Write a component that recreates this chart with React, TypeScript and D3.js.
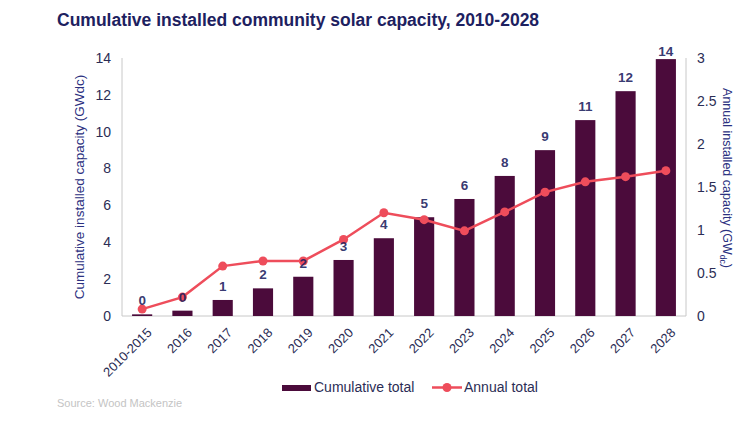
import React from 'react'
import * as d3 from 'd3'

const years = ['2010-2015', '2016', '2017', '2018', '2019', '2020', '2021', '2022', '2023', '2024', '2025', '2026', '2027', '2028']
const cumulative = [0.09, 0.29, 0.87, 1.5, 2.13, 3.04, 4.22, 5.36, 6.35, 7.6, 9.0, 10.63, 12.2, 13.94]
const annual = [0.08, 0.22, 0.58, 0.64, 0.64, 0.89, 1.2, 1.12, 0.99, 1.21, 1.44, 1.56, 1.62, 1.69]
const leftTicks = [0, 2, 4, 6, 8, 10, 12, 14]
const rightTicks = [0, 0.5, 1, 1.5, 2, 2.5, 3]

const W = 749
const H = 424
const left = 122
const right = 686
const top = 58
const bottom = 316

const barColor = '#4b0b3b'
const lineColor = '#ee4d5b'
const navy = '#1d2160'
const font = 'Arial, "Liberation Sans", sans-serif'

export default function App() {
  const x = d3.scaleBand<string>().domain(years).range([left, right]).paddingInner(0.5).paddingOuter(0.25)
  const yL = d3.scaleLinear().domain([0, 14]).range([bottom, top])
  const yR = d3.scaleLinear().domain([0, 3]).range([bottom, top])
  const cx = (d: string) => x(d)! + x.bandwidth() / 2
  const line = d3.line<number>().x((_, i) => cx(years[i])).y(d => yR(d))
  const fmt = d3.format('.0f')

  return (
    <svg width={W} height={H} style={{ position: 'absolute', left: 0, top: 0, fontFamily: font }}>
      <rect width={W} height={H} fill="#fff" />
      <text x={57} y={26} fontSize={17.5} fontWeight="bold" fill={navy}>
        Cumulative installed community solar capacity, 2010-2028
      </text>

      {/* axes */}
      <line x1={left} x2={left} y1={top} y2={bottom} stroke="#c8c8c8" />
      <line x1={right} x2={right} y1={top} y2={bottom} stroke="#c8c8c8" />
      <line x1={left} x2={right} y1={bottom} y2={bottom} stroke="#c8c8c8" />

      {leftTicks.map(t => (
        <text key={t} x={111} y={yL(t)} dy="0.35em" textAnchor="end" fontSize={14} fill="#2b2d55">{t}</text>
      ))}
      {rightTicks.map(t => (
        <text key={t} x={697} y={yR(t)} dy="0.35em" fontSize={14} fill="#2b2d55">{t}</text>
      ))}

      <text transform={`translate(84,${(top + bottom) / 2}) rotate(-90)`} textAnchor="middle" fontSize={13.5} fill="#2b3080">
        Cumulative installed capacity (GWdc)
      </text>
      <text transform={`translate(723,178) rotate(90)`} textAnchor="middle" fontSize={12.5} fill="#2b3080">
        Annual installed capacity (GW<tspan fontSize={8.5} dy="3">dc</tspan><tspan dy="-3">)</tspan>
      </text>

      {/* bars */}
      {years.map((yr, i) => (
        <rect key={yr} x={x(yr)} y={yL(cumulative[i])} width={x.bandwidth()} height={bottom - yL(cumulative[i])} fill={barColor} />
      ))}

      {/* annual line */}
      <path d={line(annual)!} fill="none" stroke={lineColor} strokeWidth={2.5} />
      {annual.map((v, i) => (
        <circle key={i} cx={cx(years[i])} cy={yR(v)} r={4.5} fill={lineColor} />
      ))}

      {/* data labels */}
      {years.map((yr, i) => (
        <text key={yr} x={cx(yr)} y={Math.max(yL(cumulative[i]) - 9, 56)} textAnchor="middle" fontSize={13.5} fontWeight="bold" fill={navy} fillOpacity={0.9}>
          {fmt(cumulative[i])}
        </text>
      ))}

      {/* x labels */}
      {years.map(yr => (
        <text key={yr} transform={`translate(${cx(yr) + 4},${bottom + 11}) rotate(-45)`} textAnchor="end" dy="0.7em" fontSize={13} fill="#2b2d55">
          {yr}
        </text>
      ))}

      {/* legend */}
      <rect x={282} y={385} width={29} height={6} fill={barColor} />
      <text x={314} y={392} fontSize={14} fill="#2b2d55">Cumulative total</text>
      <line x1={432} x2={462} y1={387.5} y2={387.5} stroke={lineColor} strokeWidth={2.5} />
      <circle cx={447} cy={387.5} r={4.5} fill={lineColor} />
      <text x={464} y={392} fontSize={14} fill="#2b2d55">Annual total</text>

      <text x={57} y={407} fontSize={11} fill="#c4c4c4">Source: Wood Mackenzie</text>
    </svg>
  )
}
